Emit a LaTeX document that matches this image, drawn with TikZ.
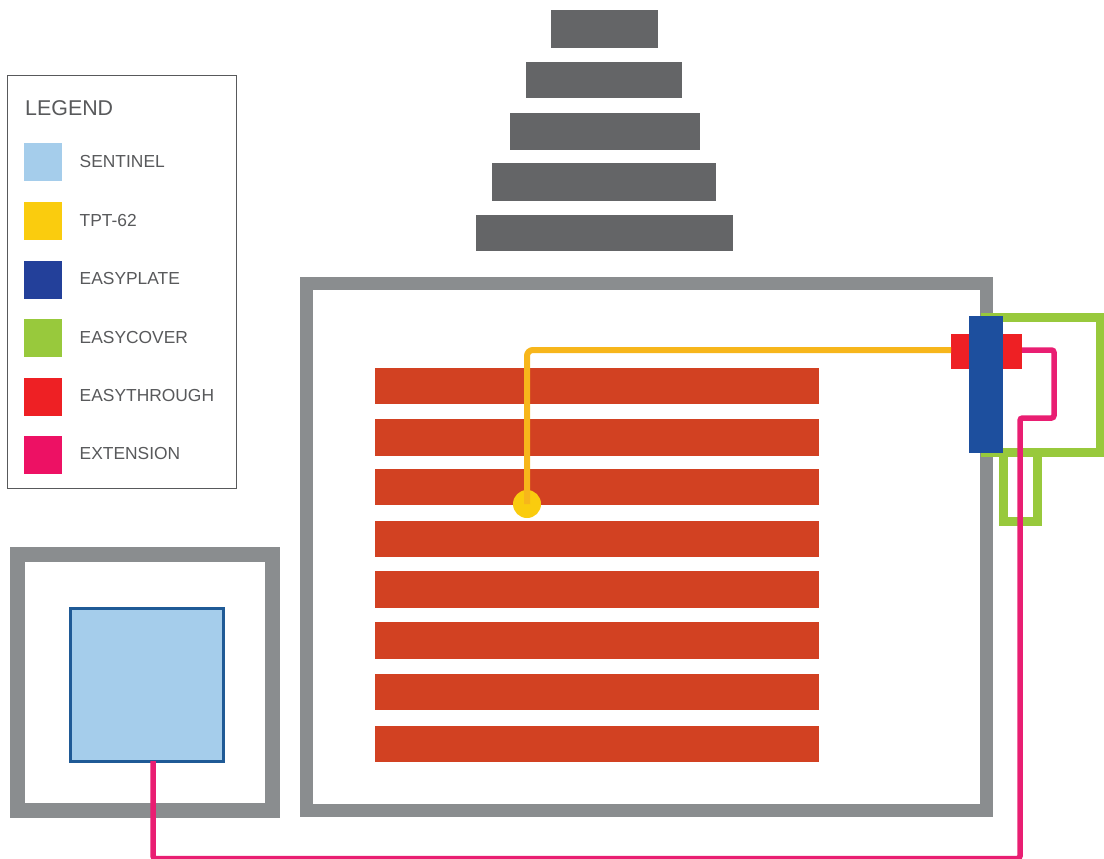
\documentclass[tikz,border=0pt]{standalone}
\usepackage{fontspec}
\setmainfont{Liberation Sans}
\definecolor{cwall}{HTML}{8A8D8F}
\definecolor{cstack}{HTML}{646567}
\definecolor{cbar}{HTML}{D24122}
\definecolor{csent}{HTML}{A5CDEB}
\definecolor{csentb}{HTML}{1F5A96}
\definecolor{cyel}{HTML}{FACC0E}
\definecolor{cline}{HTML}{F7B61B}
\definecolor{cblue}{HTML}{1D4F9E}
\definecolor{cleg}{HTML}{23409A}
\definecolor{cgreen}{HTML}{98C93C}
\definecolor{cred}{HTML}{EE2024}
\definecolor{cpink}{HTML}{E91E72}
\definecolor{cpinkleg}{HTML}{ED1164}
\definecolor{ctext}{HTML}{58595B}
\newcommand{\cornerbox}[6]{%
  \pgfmathsetmacro\cbw{#5-#3}\pgfmathsetmacro\cbh{#6-#4}%
  \pgfmathsetmacro\cbx{(#3+#5)/2}\pgfmathsetmacro\cby{(#4+#6)/2}%
  \node[#1,minimum width=\cbw pt,minimum height=\cbh pt] (#2) at (\cbx,\cby) {};}
\tikzset{
  x=1pt,y=-1pt,
  plainbox/.style={inner sep=0pt,outer sep=0pt,rectangle},
  frame/.style={plainbox,draw=cwall,line width=#1},
  stackbar/.style={plainbox,fill=cstack},
  heatbar/.style={plainbox,fill=cbar},
  cover/.style={plainbox,draw=cgreen,line width=9pt},
  swatch/.style={plainbox,fill=#1},
  legendlabel/.style={anchor=base west,inner sep=0pt,text=ctext,font=\fontsize{17.4}{20}\selectfont},
  legendtitle/.style={anchor=base west,inner sep=0pt,text=ctext,font=\fontsize{21.4}{24}\selectfont},
  pinkline/.style={draw=cpink,line width=5.5pt,rounded corners=2.5pt},
  yelline/.style={draw=cline,line width=6pt,rounded corners=6pt},
}
\begin{document}
\begin{tikzpicture}
\clip (0,0) rectangle (1104,859);
% stack
\cornerbox{stackbar}{s1}{551}{10}{658}{48}
\cornerbox{stackbar}{s2}{526}{62}{682}{98}
\cornerbox{stackbar}{s3}{510}{113}{700}{150}
\cornerbox{stackbar}{s4}{492}{163}{716}{201}
\cornerbox{stackbar}{s5}{476}{215}{733}{251}
% walls
\cornerbox{frame=13pt}{room}{306.5}{283.5}{986.5}{810.5}
\cornerbox{frame=15pt}{cabinet}{17}{554.5}{272}{810}
% heating bars
\cornerbox{heatbar}{b1}{375}{368}{819}{404}
\cornerbox{heatbar}{b2}{375}{419}{819}{456}
\cornerbox{heatbar}{b3}{375}{469}{819}{505}
\cornerbox{heatbar}{b4}{375}{521}{819}{557}
\cornerbox{heatbar}{b5}{375}{571}{819}{608}
\cornerbox{heatbar}{b6}{375}{622}{819}{659}
\cornerbox{heatbar}{b7}{375}{674}{819}{710}
\cornerbox{heatbar}{b8}{375}{726}{819}{762}
% sentinel
\cornerbox{plainbox,fill=csent,draw=csentb,line width=3pt}{sentinel}{70}{608}{223}{761}
% covers
\cornerbox{cover}{coverbig}{985}{317.5}{1100.5}{452}
\cornerbox{cover}{coversmall}{1003}{452}{1037}{521}
% through and plate
\cornerbox{plainbox,fill=cred}{through}{951}{334}{1022}{369}
\cornerbox{plainbox,fill=cblue}{plate}{969}{316}{1003}{453}
% sensor
\node[circle,fill=cyel,inner sep=0pt,minimum size=28pt] (sensor) at (527,504) {};
\coordinate (yelstart) at (951,350);
\draw[yelline] (yelstart) -- (527,350) -- (sensor.center);
\coordinate (pinkstart) at (1022,350);
\coordinate (pinkend) at (153,761);
\draw[pinkline] (pinkstart) -- (1054,350) -- (1054,418) -- (1020,418) -- (1020,858.5) -- (153,858.5) -- (pinkend);
% legend
\cornerbox{plainbox,draw=ctext,line width=1pt}{legend}{7.5}{75.5}{236}{488}
\node[legendtitle] (lt) at (25,115.7) {LEGEND};
\cornerbox{swatch=csent}{k1}{24}{143}{62}{181}
\cornerbox{swatch=cyel}{k2}{24}{202}{62}{240}
\cornerbox{swatch=cleg}{k3}{24}{261}{62}{299}
\cornerbox{swatch=cgreen}{k4}{24}{319}{62}{357}
\cornerbox{swatch=cred}{k5}{24}{378}{62}{416}
\cornerbox{swatch=cpinkleg}{k6}{24}{436}{62}{474}
\node[legendlabel] (l1) at (79.5,167) {SENTINEL};
\node[legendlabel] (l2) at (79.5,226) {TPT-62};
\node[legendlabel] (l3) at (79.5,284.5) {EASYPLATE};
\node[legendlabel] (l4) at (79.5,343) {EASYCOVER};
\node[legendlabel] (l5) at (79.5,401) {EASYTHROUGH};
\node[legendlabel] (l6) at (79.5,459.5) {EXTENSION};
\end{tikzpicture}
\end{document}
